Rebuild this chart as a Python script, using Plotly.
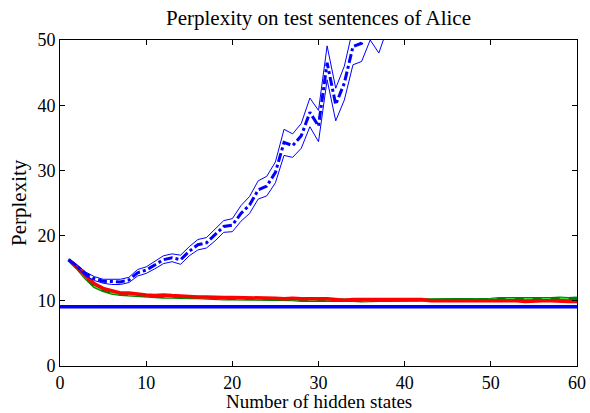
import plotly.graph_objects as go

hidden_states = list(range(1, 61))

blue_mean = [16.3, 15.3, 14.1, 13.4, 13.0, 12.9, 12.9, 13.2, 14.3, 14.7,
             15.5, 16.3, 16.6, 16.3, 17.6, 18.6, 18.9, 20.1, 21.4, 21.6,
             23.4, 24.7, 27.0, 27.6, 29.7, 34.3, 33.8, 35.3, 38.9, 36.8,
             46.5, 40.1, 43.4, 49.0, 49.5, 53.0, 51.0, 55.0, 57.0, 60.0]
blue_spread = [0.1, 0.2, 0.3, 0.3, 0.3, 0.4, 0.4, 0.4, 0.5, 0.5,
               0.6, 0.6, 0.6, 0.7, 0.7, 0.8, 0.8, 0.9, 0.9, 1.0,
               1.2, 1.3, 1.4, 1.5, 1.6, 2.0, 1.8, 1.9, 2.2, 2.4,
               2.6, 2.5, 2.6, 2.8, 2.8, 3.0, 3.0, 3.2, 3.3, 3.5]

red_mean = [16.3, 15.2, 13.8, 12.6, 11.9, 11.5, 11.2, 11.2, 11.0, 10.9,
            10.8, 10.9, 10.8, 10.7, 10.6, 10.6, 10.6, 10.5, 10.5, 10.5,
            10.5, 10.4, 10.5, 10.4, 10.4, 10.3, 10.4, 10.3, 10.3, 10.4,
            10.3, 10.2, 10.1, 10.2, 10.2, 10.2, 10.2, 10.2, 10.2, 10.2,
            10.2, 10.2, 10.0, 10.0, 10.1, 10.1, 10.1, 10.1, 10.1, 10.0,
            10.1, 10.0, 10.0, 9.9, 10.0, 10.0, 10.0, 9.9, 9.9, 9.9]

green_mean = [16.3, 15.0, 13.5, 12.2, 11.6, 11.2, 11.0, 10.9, 10.8, 10.7,
              10.7, 10.6, 10.6, 10.5, 10.5, 10.5, 10.4, 10.4, 10.3, 10.3,
              10.3, 10.3, 10.2, 10.3, 10.2, 10.2, 10.2, 10.1, 10.1, 10.2,
              10.2, 10.1, 10.1, 10.1, 10.0, 10.1, 10.1, 10.1, 10.1, 10.1,
              10.1, 10.1, 10.1, 10.2, 10.2, 10.2, 10.2, 10.2, 10.2, 10.2,
              10.3, 10.3, 10.2, 10.3, 10.3, 10.2, 10.3, 10.4, 10.3, 10.4]

baseline_x = [0, 60]
baseline_value = 9.1

x_ticks = [0, 10, 20, 30, 40, 50, 60]
y_ticks = [0, 10, 20, 30, 40, 50]

bx = hidden_states[:len(blue_mean)]
blue_upper = [m + s for m, s in zip(blue_mean, blue_spread)]
blue_lower = [m - s for m, s in zip(blue_mean, blue_spread)]

fig = go.Figure()
BLUE = "#0000ff"

fig.add_trace(go.Scatter(x=baseline_x, y=[baseline_value] * 2, mode="lines",
                         line=dict(color=BLUE, width=3.5)))
fig.add_trace(go.Scatter(x=hidden_states, y=green_mean, mode="lines",
                         line=dict(color="#008000", width=3.5)))
fig.add_trace(go.Scatter(x=hidden_states, y=green_mean, mode="lines",
                         line=dict(color="#33dd33", width=1.5, dash="dash")))
fig.add_trace(go.Scatter(x=hidden_states, y=red_mean, mode="lines",
                         line=dict(color="#ff0000", width=3.5)))
fig.add_trace(go.Scatter(x=bx, y=blue_upper, mode="lines",
                         line=dict(color=BLUE, width=1)))
fig.add_trace(go.Scatter(x=bx, y=blue_lower, mode="lines",
                         line=dict(color=BLUE, width=1)))
fig.add_trace(go.Scatter(x=bx, y=blue_mean, mode="lines",
                         line=dict(color=BLUE, width=3, dash="dashdot")))

font = "Liberation Serif, Times New Roman, serif"
W, H = 590, 413
L, R, T, B = 60, 13, 40, 47
pw, ph = W - L - R, H - T - B

fig.update_layout(
    width=W, height=H,
    margin=dict(l=L, r=R, t=T, b=B),
    paper_bgcolor="white", plot_bgcolor="white",
    showlegend=False,
    font=dict(family=font, size=18, color="black"),
    title=dict(text="Perplexity on test sentences of Alice",
               x=(L + pw / 2) / W, xanchor="center",
               y=1 - 17.5 / H, yanchor="middle", font=dict(family=font, size=21)),
    annotations=[
        dict(text="Number of hidden states", xref="paper", yref="paper",
             x=0.5, y=-(H - (T + ph)) / ph, xanchor="center", yanchor="bottom",
             borderpad=0, showarrow=False, font=dict(family=font, size=19)),
        dict(text="Perplexity", xref="paper", yref="paper",
             x=-(L - 19) / pw, y=0.5, xanchor="center", yanchor="middle",
             textangle=-90, showarrow=False, font=dict(family=font, size=21)),
    ],
)
fig.update_xaxes(range=[0, 60], tickvals=x_ticks, automargin=False,
                 showgrid=False, zeroline=False, showline=True, linecolor="black",
                 linewidth=1, mirror="ticks", ticks="inside", ticklen=5,
                 tickcolor="black")
fig.update_yaxes(range=[0, 50], tickvals=y_ticks, automargin=False,
                 showgrid=False, zeroline=False, showline=True, linecolor="black",
                 linewidth=1, mirror="ticks", ticks="inside", ticklen=5,
                 tickcolor="black")

fig.write_html("out.html")
